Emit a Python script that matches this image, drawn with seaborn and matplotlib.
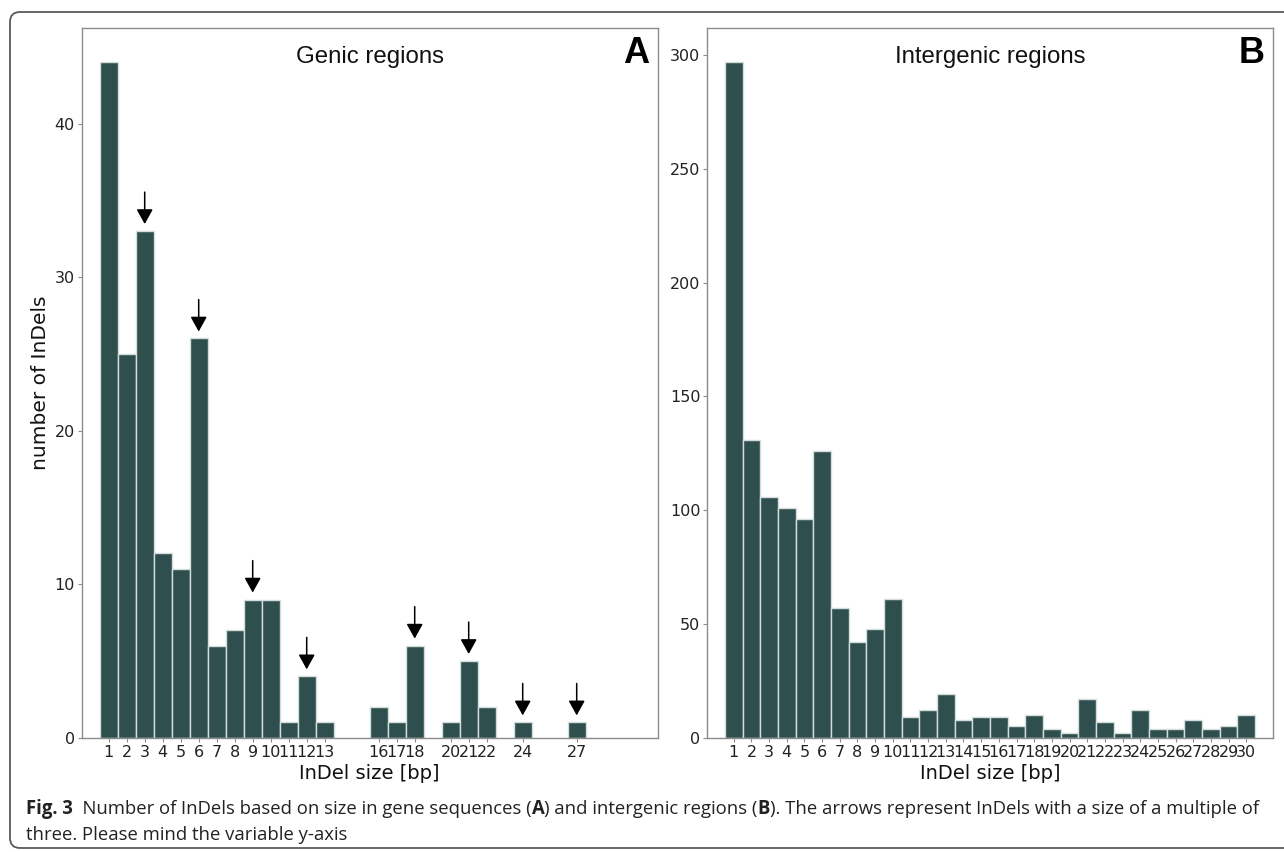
import matplotlib
matplotlib.use("Agg")
import matplotlib.pyplot as plt
import seaborn as sns
import pandas as pd
from matplotlib.patches import FancyBboxPatch

# ---------------- data ----------------
sizes_A = [1, 2, 3, 4, 5, 6, 7, 8, 9, 10, 11, 12, 13, 16, 17, 18, 20, 21, 22, 24, 27]
counts_A = [44, 25, 33, 12, 11, 26, 6, 7, 9, 9, 1, 4, 1, 2, 1, 6, 1, 5, 2, 1, 1]
arrow_sizes_A = [3, 6, 9, 12, 18, 21, 24, 27]

sizes_B = list(range(1, 31))
counts_B = [297, 131, 106, 101, 96, 126, 57, 42, 48, 61, 9, 12, 19, 8, 9, 9, 5, 10,
            4, 2, 17, 7, 2, 12, 4, 4, 8, 4, 5, 10]

yticks_A = [0, 10, 20, 30, 40]
yticks_B = [0, 50, 100, 150, 200, 250, 300]

title_A = "Genic regions"
title_B = "Intergenic regions"
panel_A = "A"
panel_B = "B"
xlabel = "InDel size [bp]"
ylabel = "number of InDels"

caption_pieces_1 = [("Fig. 3", "bold"), ("  Number of InDels based on size in gene sequences (", "normal"),
                    ("A", "bold"), (") and intergenic regions (", "normal"), ("B", "bold"),
                    ("). The arrows represent InDels with a size of a multiple of", "normal")]
caption_line_2 = "three. Please mind the variable y-axis"

BAR = "#2f4f4f"
EDGE = "#d3dedc"
SPINE = "#8c8c8c"

sns.set_style("white")
plt.rcParams["font.family"] = ["DejaVu Sans"]

W, H = 1284, 852
fig = plt.figure(figsize=(W / 100, H / 100), dpi=100)


def px_axes(x0, y0, x1, y1):
    return [x0 / W, (H - y1) / H, (x1 - x0) / W, (y1 - y0) / H]


axA = fig.add_axes(px_axes(81.7, 28.3, 657.7, 737.7))
axB = fig.add_axes(px_axes(707.3, 28.3, 1272.7, 737.7))

dfA = pd.DataFrame({"size": sizes_A, "count": counts_A})
dfB = pd.DataFrame({"size": sizes_B, "count": counts_B})

for ax, df in ((axA, dfA), (axB, dfB)):
    sns.barplot(data=df, x="size", y="count", native_scale=True, width=1, color=BAR,
                saturation=1, edgecolor=EDGE, linewidth=1.0, errorbar=None, ax=ax)
    ax.set_xlim(-0.5, 31.5)
    for s in ax.spines.values():
        s.set_visible(True)
        s.set_color(SPINE)
        s.set_linewidth(1.0)
    ax.tick_params(axis="both", which="both", length=3, width=0.8, color=SPINE,
                   labelsize=11.5, labelcolor="#222222", pad=2, direction="out",
                   bottom=True, left=True)
    ax.set_xlabel(xlabel, fontsize=14, color="#111111", labelpad=3)

axA.set_ylim(0, max(counts_A) * 1.05)
axB.set_ylim(0, max(counts_B) * 1.05)
axA.set_xticks(sizes_A)
axA.set_xticklabels([str(s) for s in sizes_A])
axB.set_xticks(sizes_B)
axB.set_xticklabels([str(s) for s in sizes_B])
axA.set_yticks(yticks_A)
axB.set_yticks(yticks_B)
axA.set_ylabel(ylabel, fontsize=14.5, color="#111111", labelpad=3)
axB.set_ylabel("")

for ax, t, p in ((axA, title_A, panel_A), (axB, title_B, panel_B)):
    ax.text(0.5, 0.9507, t, transform=ax.transAxes, ha="center", va="baseline",
            fontsize=17.3, family=["Liberation Sans", "DejaVu Sans"], color="#111111")
    ax.text(0.985, 0.9507, p, transform=ax.transAxes, ha="right", va="baseline",
            fontsize=26, fontweight="bold", family=["Liberation Sans", "DejaVu Sans"],
            color="black")

# arrows on multiples of three (genic panel)
lookup = dict(zip(sizes_A, counts_A))
for s in arrow_sizes_A:
    axA.annotate("", xy=(s, lookup[s]), xycoords="data", xytext=(0, 28),
                 textcoords="offset points",
                 arrowprops=dict(arrowstyle="-|>,head_length=0.45,head_width=0.25",
                                 mutation_scale=20, color="black", lw=1.1,
                                 shrinkA=0, shrinkB=5))

# outer rounded frame
frame = FancyBboxPatch((10, 4), 1300, 836, boxstyle="round,pad=0,rounding_size=10",
                       transform=None, fill=False, ec="#5a5a5a", lw=1.3, clip_on=False)
fig.add_artist(frame)

# caption (font size fitted so that line 1 spans the same width as the reference)
renderer = fig.canvas.get_renderer()
cap_font = ["Open Sans", "DejaVu Sans"]


def draw_line1(fs):
    x = 26
    arts = []
    for txt, wt in caption_pieces_1:
        t = fig.text(x / W, (H - 814) / H, txt, fontsize=fs, fontweight=wt, family=cap_font,
                     color="#222222", ha="left", va="baseline")
        bb = t.get_window_extent(renderer=renderer)
        x = bb.x1
        arts.append(t)
    return arts, x


fs = 12.7
arts, xend = draw_line1(fs)
fs = fs * (1262 - 26) / (xend - 26)
for a in arts:
    a.remove()
draw_line1(fs)
fig.text(26 / W, (H - 840) / H, caption_line_2, fontsize=fs, family=cap_font,
         color="#222222", ha="left", va="baseline")

fig.savefig("out.png", dpi=100, facecolor="white")
